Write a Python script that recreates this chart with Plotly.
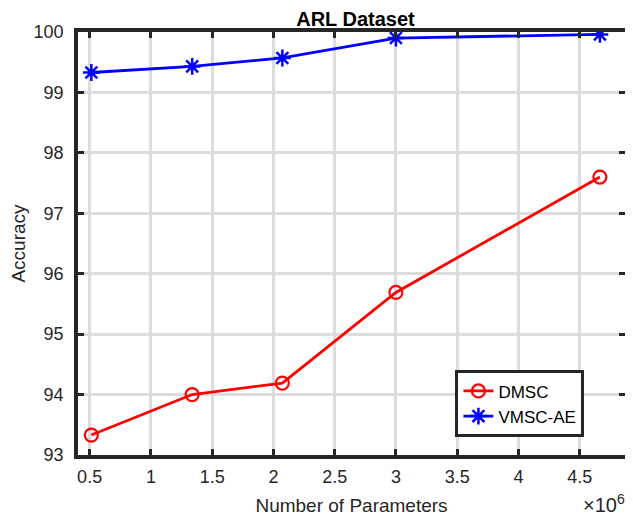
import plotly.graph_objects as go

# Number of parameters (in units of 1e6)
params_millions = [0.514, 1.337, 2.073, 3.0, 4.665]
dmsc_acc = [93.33, 94.0, 94.19, 95.69, 97.6]
vmsc_ae_acc = [99.33, 99.43, 99.57, 99.9, 99.96]
x_ticks = [0.5, 1, 1.5, 2, 2.5, 3, 3.5, 4, 4.5]
x_tick_labels = ["0.5", "1", "1.5", "2", "2.5", "3", "3.5", "4", "4.5"]
y_ticks = [93, 94, 95, 96, 97, 98, 99, 100]

AX = "#262626"
FONT = "Liberation Sans, Arial, Helvetica, sans-serif"

fig = go.Figure()
fig.add_trace(go.Scatter(
    x=params_millions, y=dmsc_acc, name="DMSC", mode="lines+markers",
    line=dict(color="#ff0000", width=2.8),
    marker=dict(symbol="circle-open", size=13, color="#ff0000", line=dict(width=2.2)),
))
fig.add_trace(go.Scatter(
    x=params_millions, y=vmsc_ae_acc, name="VMSC-AE", mode="lines+markers",
    line=dict(color="#0000ff", width=2.8),
    marker=dict(symbol="asterisk-open", size=14, color="#0000ff", line=dict(width=2.5, color="#0000ff")),
))

axis_common = dict(
    showline=True, linecolor=AX, linewidth=3.5, mirror="ticks",
    ticks="inside", ticklen=6, tickwidth=3, tickcolor=AX,
    showgrid=True, gridcolor="#dcdcdc", gridwidth=3,
    zeroline=False,
    tickfont=dict(family=FONT, size=18, color=AX),
)

fig.update_layout(
    width=625, height=510,
    margin=dict(l=69, r=4, t=24, b=62),
    paper_bgcolor="white", plot_bgcolor="white",
    title=dict(text="<b>ARL Dataset</b>", x=0.556, xanchor="center", y=0.979, yanchor="middle",
               font=dict(family=FONT, size=20, color="#000000")),
    xaxis=dict(range=[0.405, 4.87], tickvals=x_ticks, ticktext=x_tick_labels,
               ticklabelstandoff=3,
               title=dict(text="Number of Parameters", font=dict(family=FONT, size=19, color=AX), standoff=13),
               **axis_common),
    yaxis=dict(range=[93, 100], tickvals=y_ticks, ticklabelstandoff=7,
               title=dict(text="Accuracy", font=dict(family=FONT, size=19, color=AX), standoff=8),
               **axis_common),
    legend=dict(x=0.69, y=0.2, xanchor="left", yanchor="top",
                bgcolor="white", bordercolor=AX, borderwidth=3,
                font=dict(family=FONT, size=17, color="#000000"),
                tracegroupgap=0, itemwidth=30),
    showlegend=True,
)

fig.add_annotation(
    text="×10<sup>6</sup>", xref="paper", yref="paper", x=1.004, y=-0.15,
    xanchor="right", yanchor="bottom", showarrow=False,
    font=dict(family=FONT, size=20, color=AX),
)

fig.write_html("out.html")
